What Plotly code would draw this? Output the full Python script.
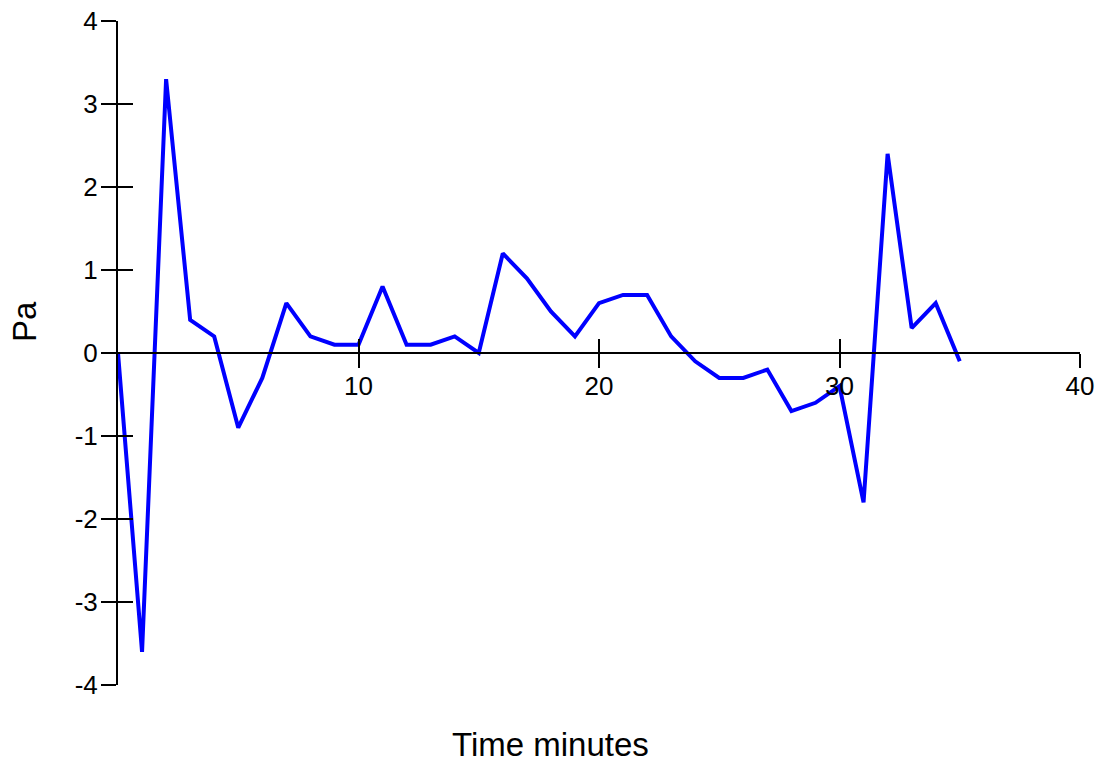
import plotly.graph_objects as go

minutes = list(range(0, 36))
pa = [0.0, -3.6, 3.3, 0.4, 0.2, -0.9, -0.3, 0.6, 0.2, 0.1,
      0.1, 0.8, 0.1, 0.1, 0.2, 0.0, 1.2, 0.9, 0.5, 0.2,
      0.6, 0.7, 0.7, 0.2, -0.1, -0.3, -0.3, -0.2, -0.7, -0.6,
      -0.4, -1.8, 2.4, 0.3, 0.6, -0.1]

x_ticks = [10, 20, 30, 40]
x_labels = ["10", "20", "30", "40"]
y_ticks = [-4, -3, -2, -1, 0, 1, 2, 3, 4]
y_labels = ["-4", "-3", "-2", "-1", "0", "1", "2", "3", "4"]

FONT = "Liberation Sans, Arial, sans-serif"

fig = go.Figure()
fig.add_trace(go.Scatter(x=minutes, y=pa, mode="lines",
                         line=dict(color="#0000FF", width=4),
                         showlegend=False, hoverinfo="x+y"))
fig.add_trace(go.Scatter(x=[], y=[], xaxis="x2", yaxis="y2",
                         showlegend=False, hoverinfo="skip"))

common_x = dict(range=[0, 40], tickvals=x_ticks, ticktext=x_labels,
                showgrid=False, automargin=False,
                zeroline=False, tickcolor="black", tickwidth=2, ticklen=14)
common_y = dict(range=[-4, 4], tickvals=y_ticks, ticktext=y_labels,
                showgrid=False, automargin=False,
                zeroline=False, tickcolor="black", tickwidth=2, ticklen=15)

fig.update_layout(
    width=1100, height=762,
    autosize=False,
    margin=dict(l=118, r=20, t=21, b=77, pad=0, autoexpand=False),
    paper_bgcolor="white", plot_bgcolor="white",
    font=dict(family=FONT, color="black"),
    xaxis=dict(**common_x, anchor="free", position=0.5, ticks="outside",
               showline=True, linecolor="black", linewidth=2,
               ticklabelstandoff=-4,
               tickfont=dict(size=26, family=FONT, color="black")),
    xaxis2=dict(**common_x, overlaying="x", anchor="free", position=0.5,
                ticks="inside", showline=False, showticklabels=False),
    yaxis=dict(**common_y, anchor="x", side="left", ticks="outside",
               showline=True, linecolor="black", linewidth=2,
               ticklabelstandoff=-2,
               tickfont=dict(size=26, family=FONT, color="black")),
    yaxis2=dict(**common_y, overlaying="y", anchor="x2", side="left",
                ticks="inside", showline=False, showticklabels=False),
    annotations=[
        dict(text="Time minutes", xref="paper", yref="paper",
             x=(550 - 118) / 962, y=(685 - 744) / 664,
             xanchor="center", yanchor="middle", showarrow=False,
             font=dict(size=33, family=FONT, color="black")),
        dict(text="Pa", xref="paper", yref="paper",
             x=(24 - 118) / 962, y=(685 - 322) / 664,
             xanchor="center", yanchor="middle", showarrow=False,
             textangle=-90,
             font=dict(size=33, family=FONT, color="black")),
    ],
)

fig.write_html(
    "out.html",
    config={"displayModeBar": False},
    post_script="document.body.style.margin='0px';"
                "document.body.style.overflow='hidden';",
)
